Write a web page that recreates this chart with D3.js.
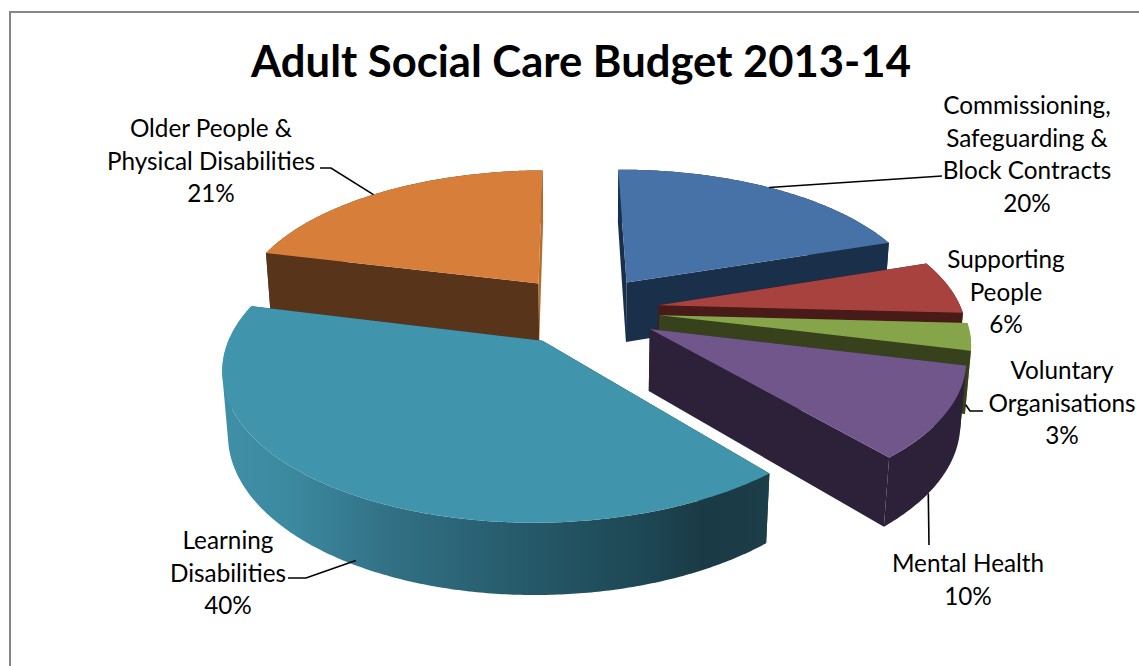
<!DOCTYPE html>
<html lang="en">
<head>
  <meta charset="UTF-8">
  <title>Adult Social Care Budget 2013-14</title>
  <style>
    html, body { margin: 0; padding: 0; background: #fff; overflow: hidden; }
    text { font-family: Lato, "Open Sans", sans-serif; fill: #000; }
    .title { font-size: 43.6px; font-weight: 700; text-anchor: middle; }
    .label { font-size: 24.3px; text-anchor: middle; }
    .leader { fill: none; stroke: #000; stroke-width: 1.6px; }
  </style>
  <script src="https://d3js.org/d3.v7.min.js"></script>
</head>
<body>
<div id="chart"></div>
<script>
  // Data, clockwise from the top
  var categories = [
    ["Commissioning,", "Safeguarding &", "Block Contracts"],
    ["Supporting", "People"],
    ["Voluntary", "Organisations"],
    ["Mental Health"],
    ["Learning", "Disabilities"],
    ["Older People &", "Physical Disabilities"]
  ];
  var values = [20, 6, 3, 10, 40, 21];

  var topColors = ["#4672a8", "#a8423f", "#86a44a", "#71568c", "#4095ad", "#d77f3a"];
  var startColors = ["#1a2f4a", "#481a18", "#37421c", "#2c2138", "#1b3d47", "#58341a"];
  var endColors = ["#1a2f4a", "#481a18", "#37421c", "#2c2138", "#1b3d47", "#b56e30"];
  var rimColors = ["#1a2f4a", "#481a18", "#6f8a3c", "#2c2138", "url(#tealRim)", "#58341a"];

  // Label placement: centre x, first baseline, and the leader's route
  var labelX = [1027, 1006, 1062, 968, 228, 211];
  var labelY = [114, 268, 379, 572, 549, 137];
  var leaderAnchor = [[0.49, 0], null, [0.9, 0.9], [0.63, 1], [0.485, 0.93], [0.47, 0]];
  var leaderRoute = [
    [[942, 176]],
    null,
    [[970, 411], [983, 411]],
    [[929, 545]],
    [[306, 578], [288, 578]],
    [[331, 168], [320, 168]]
  ];

  var width = 1139, height = 666, lineHeight = 32.5;

  // Perspective model of the pie: unit disc, camera above the near edge
  var ox = 584, oy = 310;
  var camera = 6, tilt = 140, depth = 62, sink = 0.09, explode = 0.25, firstAngle = -0.009;
  var scaleX = d3.scaleLinear().domain([-1, 1]).range([-303, 303]);
  var scaleZ = d3.scaleLinear().domain([-1, 1]).range([tilt, -tilt]);

  function project(x, z, w) {
    var k = camera / (camera + z + sink * w);
    return [ox + scaleX(x) * k, oy + (scaleZ(z) + depth * w) * k];
  }

  var pie = d3.pie().sort(null).startAngle(firstAngle).endAngle(firstAngle + 2 * Math.PI);
  var slices = pie(values).map(function(d, i) {
    var mid = (d.startAngle + d.endAngle) / 2;
    return {
      i: i,
      a0: d.startAngle,
      a1: d.endAngle,
      mid: mid,
      x: explode * Math.sin(mid),
      z: explode * Math.cos(mid)
    };
  });

  function rimPoint(s, a, w) {
    return project(s.x + Math.sin(a), s.z + Math.cos(a), w);
  }

  function arcPoints(s, w) {
    var n = Math.ceil((s.a1 - s.a0) / 0.01);
    return d3.range(n + 1).map(function(j) {
      return rimPoint(s, s.a0 + (s.a1 - s.a0) * j / n, w);
    });
  }

  // Rim as small quads all wound the same way, so its silhouette stays closed
  function rimPath(s) {
    var top = arcPoints(s, 0), bottom = arcPoints(s, 1), d = "";
    d3.range(top.length - 1).forEach(function(j) {
      var quad = [top[j], top[j + 1], bottom[j + 1], bottom[j]];
      if (d3.polygonArea(quad) < 0) quad.reverse();
      d += line(quad) + "Z";
    });
    return d;
  }

  var line = d3.line();
  var svg = d3.select("#chart").append("svg")
    .attr("width", width)
    .attr("height", height)
    .style("display", "block");

  // Gradient on the big slice's rim
  var grad = svg.append("defs").append("linearGradient")
    .attr("id", "tealRim")
    .attr("gradientUnits", "userSpaceOnUse")
    .attr("x1", 222).attr("x2", 770).attr("y1", 0).attr("y2", 0);
  [[0, "#3f8fa7"], [0.12, "#3c8aa0"], [0.3, "#327186"], [0.55, "#265a6a"], [0.78, "#1d4653"], [0.88, "#1a3a45"], [1, "#1c3e49"]]
    .forEach(function(s) {
      grad.append("stop").attr("offset", s[0]).attr("stop-color", s[1]);
    });

  // Chart frame, runs off the right and bottom of the window
  svg.append("rect")
    .attr("x", 10).attr("y", 12)
    .attr("width", width + 20).attr("height", height + 20)
    .attr("fill", "#fff").attr("stroke", "#868686").attr("stroke-width", 2);

  svg.append("text").attr("class", "title").attr("x", 581).attr("y", 77)
    .text("Adult Social Care Budget 2013-14");

  // Paint from back to front
  var ordered = slices.slice().sort(function(a, b) { return d3.descending(a.z, b.z); });

  var sliceG = svg.selectAll("g.slice").data(ordered).enter().append("g").attr("class", "slice");

  sliceG.append("path")
    .attr("fill", function(s) { return startColors[s.i]; })
    .attr("d", function(s) {
      return line([project(s.x, s.z, 0), rimPoint(s, s.a0, 0), rimPoint(s, s.a0, 1), project(s.x, s.z, 1)]) + "Z";
    });

  sliceG.append("path")
    .attr("fill", function(s) { return rimColors[s.i]; })
    .attr("d", rimPath);

  sliceG.append("path")
    .attr("fill", function(s) { return endColors[s.i]; })
    .attr("d", function(s) {
      return line([project(s.x, s.z, 0), rimPoint(s, s.a1, 0), rimPoint(s, s.a1, 1), project(s.x, s.z, 1)]) + "Z";
    });

  sliceG.append("path")
    .attr("fill", function(s) { return topColors[s.i]; })
    .attr("d", function(s) {
      return line([project(s.x, s.z, 0)].concat(arcPoints(s, 0))) + "Z";
    });

  // Leader lines start on the slice they belong to
  svg.selectAll("path.leader")
    .data(slices.filter(function(s) { return leaderRoute[s.i]; }))
    .enter().append("path")
    .attr("class", "leader")
    .attr("d", function(s) {
      var a = s.a0 + (s.a1 - s.a0) * leaderAnchor[s.i][0];
      return line([rimPoint(s, a, leaderAnchor[s.i][1])].concat(leaderRoute[s.i]));
    });

  // Labels
  var label = svg.selectAll("text.label")
    .data(slices)
    .enter().append("text")
    .attr("class", "label")
    .attr("y", function(s) { return labelY[s.i]; });

  label.selectAll("tspan")
    .data(function(s) {
      return categories[s.i].concat(values[s.i] + "%").map(function(t, j) {
        return { text: t, x: labelX[s.i], dy: j ? lineHeight : 0 };
      });
    })
    .enter().append("tspan")
    .attr("x", function(d) { return d.x; })
    .attr("dy", function(d) { return d.dy; })
    .text(function(d) { return d.text; });
</script>
</body>
</html>
